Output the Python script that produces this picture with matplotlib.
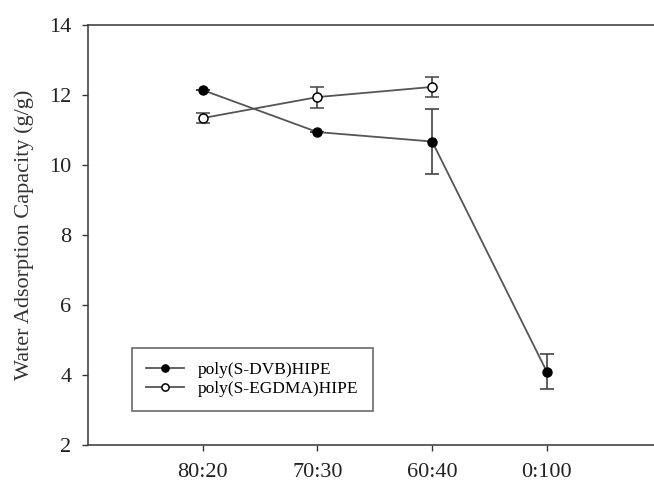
import numpy as np
import matplotlib.pyplot as plt

ratios = ["80:20", "70:30", "60:40", "0:100"]

dvb_mean = [12.14, 10.94, 10.67, 4.09]
dvb_err = [0.0, 0.0, 0.93, 0.50]

egdma_mean = [11.34, 11.94, 12.23]
egdma_err = [0.15, 0.30, 0.28]


def main():
    plt.rcParams["font.family"] = ["Liberation Serif", "DejaVu Serif"]

    fig = plt.figure(figsize=(6.54, 4.83), dpi=100)
    ax = fig.add_axes([0.1346, 0.0787, 0.877, 0.8696])

    x = np.arange(1, len(ratios) + 1)
    line_col = "#555555"

    dvb = ax.errorbar(x, dvb_mean, yerr=dvb_err, color=line_col, lw=1.3,
                      marker="o", ms=6.5, mfc="black", mec="black",
                      ecolor="#444444", elinewidth=1.2, capsize=5,
                      capthick=1.2, label="poly(S-DVB)HIPE", zorder=3)
    egdma = ax.errorbar(x[:len(egdma_mean)], egdma_mean, yerr=egdma_err,
                        color=line_col, lw=1.3, marker="o", ms=6.5,
                        mfc="white", mec="black", mew=1.1, ecolor="#444444",
                        elinewidth=1.2, capsize=5, capthick=1.2,
                        label="poly(S-EGDMA)HIPE", zorder=3)

    ax.set_xlim(0, 5)
    ax.set_ylim(2, 14)
    ax.set_xticks(x)
    ax.set_xticklabels(ratios)
    ax.set_yticks(np.arange(2, 15, 2))
    ax.tick_params(axis="both", direction="out", length=4, width=1.0,
                   colors="#333333", labelcolor="#222222", labelsize=16)
    ax.tick_params(axis="x", pad=9)
    ax.tick_params(axis="y", pad=8)

    for side in ["left", "top", "bottom"]:
        ax.spines[side].set_color("#444444")
        ax.spines[side].set_linewidth(1.2)
    ax.spines["right"].set_visible(False)

    ax.set_ylabel("Water Adsorption Capacity (g/g)", fontsize=16,
                  color="#333333", labelpad=11)

    # legend shows only the line + marker, not the error bars
    leg = ax.legend(handles=[dvb[0], egdma[0]],
                    labels=["poly(S-DVB)HIPE", "poly(S-EGDMA)HIPE"],
                    loc="lower left", bbox_to_anchor=(0.062, 0.06),
                    fontsize=12.5, frameon=True, fancybox=False,
                    edgecolor="#444444", handlelength=2.2, markerscale=0.8,
                    borderpad=0.8, labelspacing=0.2, handletextpad=0.8)
    leg.get_frame().set_linewidth(1.2)

    fig.savefig("out.png", dpi=100)


if __name__ == "__main__":
    main()
